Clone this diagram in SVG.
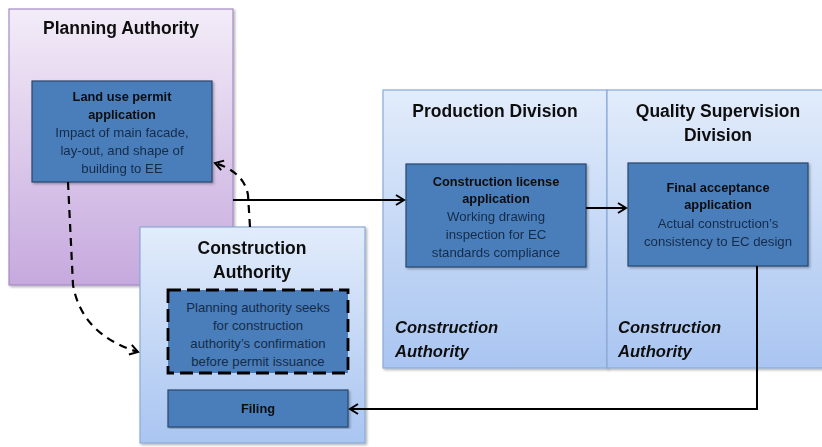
<svg xmlns="http://www.w3.org/2000/svg" width="822" height="447" viewBox="0 0 822 447">
<style>
.title{font-family:"Liberation Sans",Arial,sans-serif;font-weight:bold;font-size:17.5px;fill:#111;text-anchor:middle}
.it{font-family:"Liberation Sans",Arial,sans-serif;font-weight:bold;font-style:italic;font-size:16.6px;fill:#111}
.nb{font-family:"Liberation Sans",Arial,sans-serif;font-weight:bold;font-size:12.8px;fill:#0d0d0d;text-anchor:middle}
.nr{font-family:"Liberation Sans",Arial,sans-serif;font-size:13.2px;fill:#152b48;text-anchor:middle}
.node{fill:#4a7ebb;stroke:#2a456a;stroke-width:1.2}
.blue{fill:url(#gb);stroke:#8aaad6;stroke-width:1.2}
.conn{fill:none;stroke:#000;stroke-width:2}
.dash{fill:none;stroke:#000;stroke-width:2.2;stroke-dasharray:8,6}
</style>
<defs>
<linearGradient id="gp" x1="0" y1="0" x2="0" y2="1"><stop offset="0" stop-color="#f3ecf8"/><stop offset="1" stop-color="#c6a9de"/></linearGradient>
<linearGradient id="gb" x1="0" y1="0" x2="0" y2="1"><stop offset="0" stop-color="#e2ecfb"/><stop offset="1" stop-color="#a9c5f1"/></linearGradient>
<filter id="sh" x="-5%" y="-5%" width="110%" height="110%"><feDropShadow dx="1.5" dy="1.5" stdDeviation="1.2" flood-color="#000" flood-opacity="0.3"/></filter>
<marker id="ah" markerWidth="12" markerHeight="12" refX="10" refY="6" orient="auto" markerUnits="userSpaceOnUse"><path d="M2,1 L10,6 L2,11" fill="none" stroke="#000" stroke-width="2"/></marker>
</defs>

<g id="planning-authority" filter="url(#sh)">
<rect x="9" y="9" width="224" height="276" fill="url(#gp)" stroke="#a68bc6" stroke-width="1.2"/>
<text class="title" x="121" y="34">Planning Authority</text>
</g>
<g id="land-use" filter="url(#sh)">
<rect class="node" x="32" y="81" width="180" height="101"/>
<text class="nb" x="122" y="101">Land use permit</text>
<text class="nb" x="122" y="119">application</text>
<text class="nr" x="122" y="137">Impact of main facade,</text>
<text class="nr" x="122" y="155">lay-out, and shape of</text>
<text class="nr" x="122" y="173">building to EE</text>
</g>

<g id="production-division" filter="url(#sh)">
<rect class="blue" x="383" y="90" width="224" height="278"/>
<text class="title" x="495" y="117">Production Division</text>
<text class="it" x="395" y="333">Construction</text>
<text class="it" x="395" y="357">Authority</text>
</g>
<g id="quality-supervision" filter="url(#sh)">
<rect class="blue" x="607" y="90" width="216" height="278"/>
<text class="title" x="718" y="117">Quality Supervision</text>
<text class="title" x="718" y="141">Division</text>
<text class="it" x="618" y="333">Construction</text>
<text class="it" x="618" y="357">Authority</text>
</g>
<g id="construction-license" filter="url(#sh)">
<rect class="node" x="406" y="164" width="180" height="103"/>
<text class="nb" x="496" y="186">Construction license</text>
<text class="nb" x="496" y="203">application</text>
<text class="nr" x="496" y="221">Working drawing</text>
<text class="nr" x="496" y="239">inspection for EC</text>
<text class="nr" x="496" y="257">standards compliance</text>
</g>
<g id="final-acceptance" filter="url(#sh)">
<rect class="node" x="628" y="163" width="180" height="103"/>
<text class="nb" x="718" y="192">Final acceptance</text>
<text class="nb" x="718" y="209">application</text>
<text class="nr" x="718" y="228">Actual construction’s</text>
<text class="nr" x="718" y="246">consistency to EC design</text>
</g>

<g id="construction-authority" filter="url(#sh)">
<rect class="blue" x="140" y="227" width="225" height="216"/>
<text class="title" x="252" y="254">Construction</text>
<text class="title" x="252" y="278">Authority</text>
</g>
<g id="confirmation">
<rect x="168" y="290" width="180" height="83" fill="#4a7ebb" stroke="#000" stroke-width="2.8" stroke-dasharray="13,6"/>
<text class="nr" x="258" y="312">Planning authority seeks</text>
<text class="nr" x="258" y="330">for construction</text>
<text class="nr" x="258" y="348">authority’s confirmation</text>
<text class="nr" x="258" y="366">before  permit issuance</text>
</g>
<g id="filing" filter="url(#sh)">
<rect class="node" x="168" y="390" width="180" height="37"/>
<text class="nb" x="258" y="413">Filing</text>
</g>

<g id="connectors">
<path class="conn" d="M233,200 L404,200" marker-end="url(#ah)"/>
<path class="conn" d="M586,208 L626,208" marker-end="url(#ah)"/>
<path class="conn" d="M757,266 L757,409 L350,409" marker-end="url(#ah)"/>
<path class="dash" d="M68,182 L73,285 Q82,335 138,352" marker-end="url(#ah)"/>
<path class="dash" d="M250,227 L248,195 Q244,172 215,163" marker-end="url(#ah)"/>
</g>
</svg>
